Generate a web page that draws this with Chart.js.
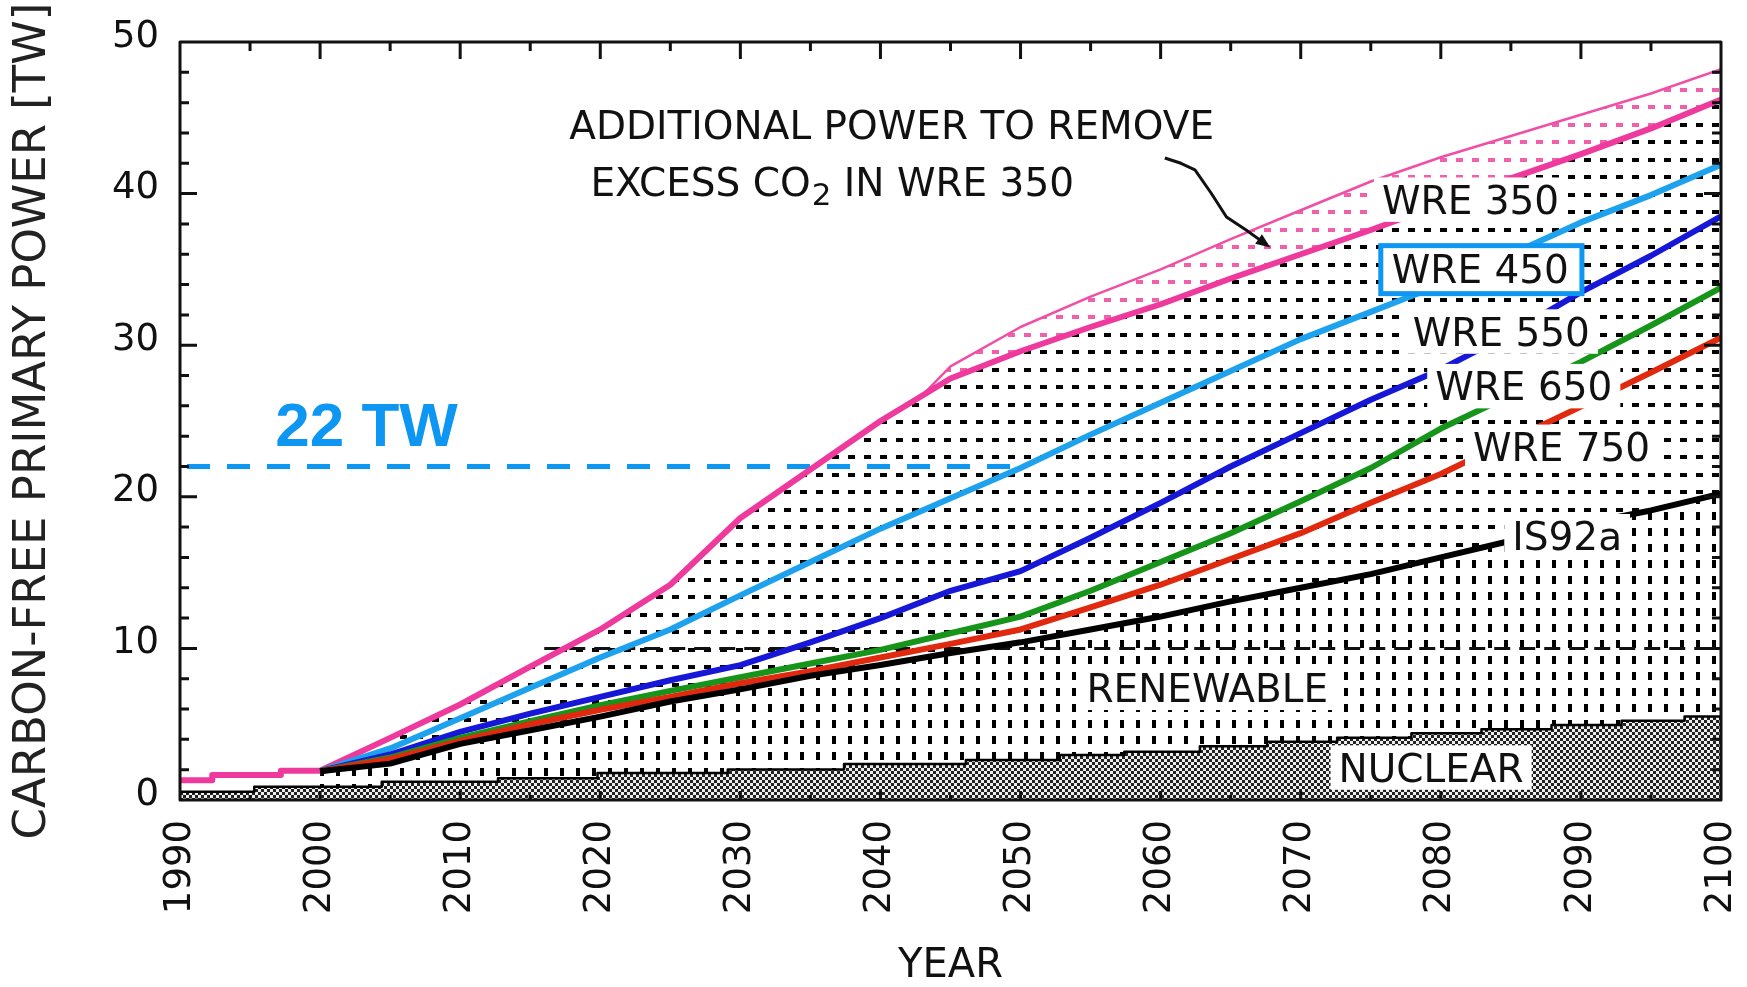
<!DOCTYPE html>
<html>
<head>
<meta charset="utf-8">
<title>Carbon-free primary power</title>
<script src="https://cdn.jsdelivr.net/npm/chart.js@4.4.1/dist/chart.umd.min.js"></script>
<style>
  html, body { margin: 0; padding: 0; background: #fff; }
  canvas { display: block; }
</style>
</head>
<body>
<canvas id="chart" width="1747" height="987"></canvas>
<script>
// ---- data (TW of carbon-free primary power) ----
const years = [2000, 2005, 2010, 2015, 2020, 2025, 2030, 2035, 2040, 2045, 2050,
               2055, 2060, 2065, 2070, 2075, 2080, 2085, 2090, 2095, 2100];

const is92a  = [1.9, 2.4, 3.7, 4.6, 5.5, 6.5, 7.3, 8.2, 8.9, 9.7, 10.4,
                11.25, 12.1, 13.1, 14.0, 14.9, 16.0, 17.1, 18.2, 19.1, 20.2];
const wre750 = [1.9, 2.7, 3.9, 5.0, 5.95, 6.8, 7.7, 8.5, 9.4, 10.3, 11.25,
                12.7, 14.2, 15.9, 17.6, 19.6, 21.5, 23.75, 25.95, 28.2, 30.5];
const wre650 = [1.9, 2.8, 4.1, 5.2, 6.25, 7.2, 8.1, 9.0, 9.9, 11.0, 12.1,
                13.8, 15.7, 17.6, 19.7, 21.9, 24.5, 26.7, 28.9, 31.3, 33.8];
const wre550 = [1.9, 3.0, 4.5, 5.7, 6.8, 7.9, 8.9, 10.4, 12.0, 13.8, 15.1,
                17.3, 19.6, 22.0, 24.2, 26.4, 28.4, 30.8, 33.5, 35.9, 38.5];
const wre450 = [1.9, 3.4, 5.4, 7.4, 9.4, 11.25, 13.5, 15.7, 17.9, 19.9, 21.9,
                24.1, 26.2, 28.3, 30.4, 32.2, 34.0, 36.0, 38.1, 39.9, 41.9];

const wre350Years = [1990, 1992.3, 1992.3, 1997.2, 1997.2].concat(years);
const wre350 = [1.3, 1.3, 1.65, 1.65, 1.93,
                1.93, 4.1, 6.3, 8.8, 11.25, 14.2, 18.6, 21.8, 25.0, 27.8, 29.6,
                31.2, 32.7, 34.4, 36.0, 37.6, 39.3, 41.0, 42.6, 44.3, 46.2];

// upper bound of WRE 350 including the power spent removing excess CO2
const removalYears = [2043, 2045, 2050, 2055, 2060, 2065, 2070, 2075, 2080, 2085, 2090, 2095, 2100];
const wre350Removal = [26.7, 28.6, 31.2, 33.2, 35.0, 37.0, 38.9, 40.8, 42.4, 43.8, 45.2, 46.6, 48.2];

// nuclear share, held constant between the listed years
const nuclearYears = [1990, 1995.3, 2004.4, 2012.7, 2019.8, 2029.1, 2037.4, 2046.1, 2052.8,
                      2057.4, 2062.8, 2067.6, 2072.6, 2077.9, 2082.9, 2087.9, 2092.9, 2097.4, 2100];
const nuclearTW = [0.55, 0.88, 1.21, 1.43, 1.78, 2.02, 2.37, 2.64, 2.97,
                   3.19, 3.55, 3.85, 4.11, 4.40, 4.66, 4.95, 5.23, 5.50, 5.50];

// reference levels
const targetTW = 22;
const targetYears = [1990.5, 2049.5];
const tenTW = 10;
const tenTWYears = [2016, 2100];

// axis ticks
const xTickYears = [1990, 2000, 2010, 2020, 2030, 2040, 2050, 2060, 2070, 2080, 2090, 2100];
const yTickValues = [0, 10, 20, 30, 40, 50];

// ---- fill patterns ----
function makePattern(w, h, paint) {
  const c = document.createElement('canvas');
  c.width = w; c.height = h;
  const g = c.getContext('2d');
  paint(g);
  return g.createPattern(c, 'repeat');
}
const checker = makePattern(6, 6, g => {
  g.fillStyle = '#eeeeee'; g.fillRect(0, 0, 6, 6);
  g.fillStyle = '#222'; g.fillRect(0, 0, 3, 3); g.fillRect(3, 3, 3, 3);
});
const verticalDashes = makePattern(16, 16, g => {
  g.fillStyle = '#000'; g.fillRect(0, 0, 4, 8);
});
const rowDashes = makePattern(16, 35, g => {
  g.fillStyle = '#000'; g.fillRect(0, 0, 7, 4); g.fillRect(0, 18, 7, 4);
});
const pinkRowDashes = makePattern(16, 35, g => {
  g.fillStyle = '#f060ab'; g.fillRect(0, 0, 7, 4); g.fillRect(0, 18, 7, 4);
});

const pts = (xs, ys) => xs.map((x, i) => ({ x, y: ys[i] }));

const PINK = '#ef3a9d';
const LIGHT_BLUE = '#1fa2ee';
const DARK_BLUE = '#1717d8';
const GREEN = '#17951b';
const RED = '#e0290f';
const TARGET_BLUE = '#0d97f2';

const datasets = [
  { label: 'Nuclear', data: pts(nuclearYears, nuclearTW), stepped: true,
    borderColor: '#000', borderWidth: 2.5, backgroundColor: checker, fill: 'origin' },
  { label: 'IS92a', data: pts(years, is92a), borderColor: '#000', borderWidth: 6,
    backgroundColor: verticalDashes, fill: 0 },
  { label: 'WRE 750', data: pts(years, wre750), borderColor: RED, borderWidth: 6, fill: false },
  { label: 'WRE 650', data: pts(years, wre650), borderColor: GREEN, borderWidth: 6, fill: false },
  { label: 'WRE 550', data: pts(years, wre550), borderColor: DARK_BLUE, borderWidth: 6, fill: false },
  { label: 'WRE 450', data: pts(years, wre450), borderColor: LIGHT_BLUE, borderWidth: 6, fill: false },
  { label: 'WRE 350', data: pts(wre350Years, wre350), borderColor: PINK, borderWidth: 6,
    backgroundColor: rowDashes, fill: 1 },
  { label: 'WRE 350 + CO2 removal', data: pts(removalYears, wre350Removal), borderColor: '#f04fa6',
    borderWidth: 2.5, backgroundColor: pinkRowDashes, fill: 6 },
  { label: '10 TW', data: tenTWYears.map(x => ({ x, y: tenTW })), borderColor: '#111',
    borderWidth: 3, borderDash: [16, 9], fill: false },
  { label: '22 TW', data: targetYears.map(x => ({ x, y: targetTW })), borderColor: TARGET_BLUE,
    borderWidth: 5, borderDash: [23, 17], fill: false }
];

// ---- annotations ----
const TEXT_FONT = '"DejaVu Sans", sans-serif';
const TEXT_SIZE = 39;
const curveLabels = [
  { text: 'WRE 350', year: 2075.8, tw: 39.6 },
  { text: 'WRE 450', year: 2076.5, tw: 35.05, frame: true },
  { text: 'WRE 550', year: 2078.0, tw: 30.9 },
  { text: 'WRE 650', year: 2079.6, tw: 27.3 },
  { text: 'WRE 750', year: 2082.3, tw: 23.3 },
  { text: 'IS92a', year: 2085.1, tw: 17.4 },
  { text: 'RENEWABLE', year: 2054.7, tw: 7.4 },
  { text: 'NUCLEAR', year: 2072.7, tw: 2.14 }
];
const arrowPath = [
  [2060.3, 42.35], [2061.45, 42.0], [2062.45, 41.56], [2063.6, 40.04],
  [2064.7, 38.46], [2066.1, 37.6], [2067.6, 36.6]
];

const annotations = {
  id: 'annotations',
  afterDatasetsDraw(chart) {
    const { ctx, chartArea: a, scales: { x, y } } = chart;
    const cap = TEXT_SIZE * 0.729;
    ctx.save();
    ctx.font = `${TEXT_SIZE}px ${TEXT_FONT}`;
    ctx.textBaseline = 'alphabetic';
    ctx.textAlign = 'left';

    // curve and region labels on white
    curveLabels.forEach(l => {
      const px = x.getPixelForValue(l.year);
      const cy = y.getPixelForValue(l.tw);
      const w = ctx.measureText(l.text).width;
      ctx.fillStyle = '#fff';
      if (l.frame) {
        ctx.fillRect(px - 12, cy - 24, w + 26, 49);
      } else {
        ctx.fillRect(px - 8, cy - cap / 2 - 8, w + 16, cap + 16);
      }
      ctx.fillStyle = '#111';
      ctx.fillText(l.text, px, cy + cap / 2);
      if (l.frame) {
        ctx.strokeStyle = TARGET_BLUE;
        ctx.lineWidth = 5;
        ctx.strokeRect(px - 11, cy - 23, w + 24, 48);
      }
    });

    // headline note
    ctx.fillStyle = '#111';
    ctx.textAlign = 'center';
    ctx.fillText('ADDITIONAL POWER TO REMOVE', x.getPixelForValue(2040.8), y.getPixelForValue(44.54) + cap / 2);
    ctx.textAlign = 'left';
    let lx = x.getPixelForValue(2019.3);
    const ly = y.getPixelForValue(40.79) + cap / 2;
    ctx.fillText('EXCESS CO', lx, ly);
    lx += ctx.measureText('EXCESS CO').width;
    ctx.font = `${Math.round(TEXT_SIZE * 0.8)}px ${TEXT_FONT}`;
    ctx.fillText('2', lx + 1, ly + 9);
    lx += ctx.measureText('2').width + 1;
    ctx.font = `${TEXT_SIZE}px ${TEXT_FONT}`;
    ctx.fillText(' IN WRE 350', lx, ly);

    // pointer to the removal band
    ctx.strokeStyle = '#111';
    ctx.lineWidth = 3;
    ctx.lineJoin = 'round';
    ctx.beginPath();
    arrowPath.forEach(([yr, tw], i) => {
      const px = x.getPixelForValue(yr), py = y.getPixelForValue(tw);
      i ? ctx.lineTo(px, py) : ctx.moveTo(px, py);
    });
    ctx.stroke();
    const [ex, ey] = arrowPath[arrowPath.length - 1];
    const [bx, by] = arrowPath[arrowPath.length - 2];
    const tx = x.getPixelForValue(ex), ty = y.getPixelForValue(ey);
    const ang = Math.atan2(ty - y.getPixelForValue(by), tx - x.getPixelForValue(bx));
    ctx.beginPath();
    ctx.moveTo(tx + 4 * Math.cos(ang), ty + 4 * Math.sin(ang));
    ctx.lineTo(tx - 12 * Math.cos(ang - 0.5), ty - 12 * Math.sin(ang - 0.5));
    ctx.lineTo(tx - 12 * Math.cos(ang + 0.5), ty - 12 * Math.sin(ang + 0.5));
    ctx.closePath();
    ctx.fillStyle = '#111';
    ctx.fill();

    // 22 TW callout
    ctx.font = 'bold 62px "Liberation Sans", Arial, sans-serif';
    ctx.fillStyle = TARGET_BLUE;
    ctx.fillText(`${targetTW} TW`, x.getPixelForValue(1996.8), y.getPixelForValue(23.37));

    // frame and inward tick marks
    ctx.strokeStyle = '#111';
    ctx.lineWidth = 3;
    ctx.strokeRect(a.left, a.top, a.right - a.left, a.bottom - a.top);
    ctx.beginPath();
    for (let v = 2; v < 50; v += 2) {
      const py = y.getPixelForValue(v);
      const len = v % 10 === 0 ? 17 : 9;
      ctx.moveTo(a.left, py); ctx.lineTo(a.left + len, py);
      ctx.moveTo(a.right, py); ctx.lineTo(a.right - len, py);
    }
    for (let yr = 1995; yr < 2100; yr += 5) {
      const px = x.getPixelForValue(yr);
      const len = yr % 10 === 0 ? 17 : 9;
      ctx.moveTo(px, a.top); ctx.lineTo(px, a.top + len);
      ctx.moveTo(px, a.bottom); ctx.lineTo(px, a.bottom - (yr % 10 === 0 ? 9 : 5));
    }
    ctx.stroke();
    ctx.restore();
  }
};

Chart.defaults.font.family = TEXT_FONT;
Chart.defaults.color = '#111';

new Chart(document.getElementById('chart'), {
  type: 'line',
  data: { datasets },
  options: {
    responsive: false,
    animation: false,
    events: [],
    layout: { padding: { left: 0, right: 26, top: 42, bottom: 0 } },
    elements: {
      point: { radius: 0, hoverRadius: 0 },
      line: { tension: 0, borderJoinStyle: 'round', borderCapStyle: 'butt' }
    },
    plugins: {
      legend: { display: false },
      tooltip: { enabled: false },
      filler: { drawTime: 'beforeDatasetsDraw', propagate: false }
    },
    scales: {
      x: {
        type: 'linear',
        min: 1990,
        max: 2100,
        afterBuildTicks: s => { s.ticks = xTickYears.map(v => ({ value: v })); },
        afterFit: s => { s.height = 187; s.paddingLeft = 0; s.paddingRight = 0; },
        grid: { display: false, drawTicks: false },
        border: { display: false },
        ticks: {
          autoSkip: false, minRotation: 90, maxRotation: 90, padding: 20,
          font: { size: 37 }, color: '#111',
          callback: v => String(v)
        },
        title: {
          display: true, text: 'YEAR', color: '#111',
          font: { size: 40, lineHeight: 1 }, padding: 0
        }
      },
      y: {
        type: 'linear',
        min: 0,
        max: 50,
        afterBuildTicks: s => { s.ticks = yTickValues.map(v => ({ value: v })); },
        afterFit: s => { s.width = 180; s.paddingTop = 0; s.paddingBottom = 0; },
        grid: { display: false, drawTicks: false },
        border: { display: false },
        ticks: {
          padding: 21, labelOffset: -5, font: { size: 37 }, color: '#111',
          callback: v => String(v)
        },
        title: {
          display: true, text: 'CARBON-FREE PRIMARY POWER [TW]', color: '#222',
          font: { size: 45 }, padding: { top: 6, bottom: 0 }
        }
      }
    }
  },
  plugins: [annotations]
});
</script>
</body>
</html>
